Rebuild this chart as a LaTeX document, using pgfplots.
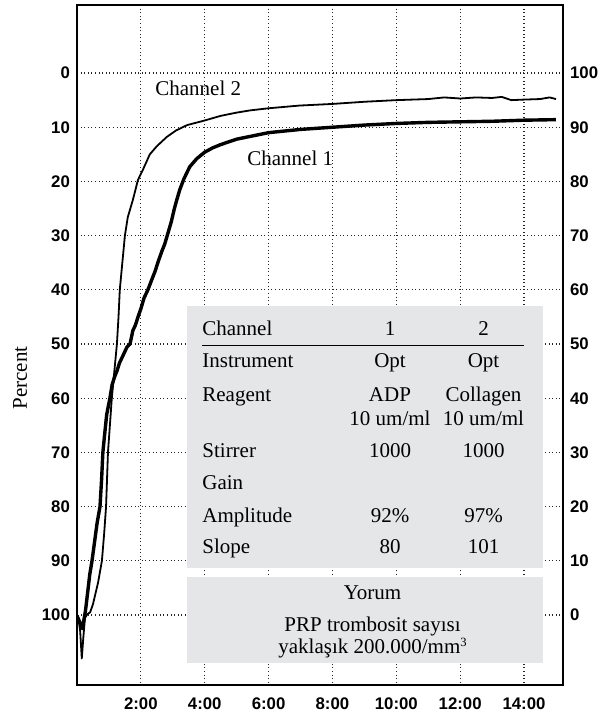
\documentclass[border=0pt]{standalone}
\usepackage{fontspec}
\setmainfont{Liberation Serif}
\setsansfont{Liberation Sans}
\usepackage{pgfplots}
\pgfplotsset{compat=1.18}
\definecolor{boxgray}{HTML}{E5E6E8}

\begin{document}
\begin{tikzpicture}[x=1pt,y=1pt]
\pgfplotsset{
  trace/.style={scale only axis, width=243pt, height=340pt,
    at={(0,0)}, anchor=south west, xmin=0, xmax=15.22,
    major tick length=0pt,
    tick label style={font=\sffamily\bfseries\fontsize{8.4}{10}\selectfont},
    /pgf/number format/assume math mode=true},
}
\begin{axis}[trace,
  ymin=-12.55, ymax=112.9, y dir=reverse,
  xtick={2,4,...,14}, xticklabels={2:00,4:00,6:00,8:00,10:00,12:00,14:00},
  ytick={0,10,...,100},
  grid=major,
  grid style={black!85, line width=0.6pt, dash pattern=on 0.5pt off 1.3pt},
  axis line style={line width=0.9pt},
  xticklabel style={yshift=-3pt},
]
% Channel 1 (ADP)
\addplot[black, line width=1.7pt, line join=round] coordinates {
(0.03,100.5) (0.10,101.5) (0.16,102.5) (0.22,100.8) (0.27,99) (0.33,96)
(0.40,92.5) (0.47,90) (0.55,86.5) (0.63,83) (0.72,80) (0.77,75) (0.81,70)
(0.86,67) (0.93,63) (1.03,60) (1.10,57.5) (1.18,56) (1.25,55) (1.33,53.5)
(1.45,52) (1.57,50.5) (1.66,50) (1.75,47.5) (1.83,46.5) (1.91,45) (2.00,43.5)
(2.10,41.5) (2.22,40) (2.35,38) (2.45,36.5) (2.53,35) (2.65,33) (2.75,31.5)
(2.85,29.5) (2.95,27.5) (3.05,25) (3.12,23.5) (3.22,21.5) (3.35,19.5)
(3.53,17.3) (3.75,15.8) (4.00,14.6) (4.25,13.8) (4.50,13.2) (5.00,12.2)
(5.50,11.6) (6.00,11.0) (6.50,10.7) (7.00,10.4) (7.50,10.2) (8.00,10.0)
(9.00,9.6) (10.00,9.3) (11.00,9.1) (12.00,9.0) (13.00,8.9) (14.00,8.7)
(15.00,8.6)
};
% Channel 2 (Collagen)
\addplot[black, line width=0.9pt, line join=round] coordinates {
(0.03,100) (0.10,103) (0.15,108) (0.20,104) (0.25,100.5) (0.33,99.8)
(0.41,99.5) (0.50,98) (0.58,96) (0.66,94) (0.72,92) (0.78,90) (0.85,85)
(0.91,80) (0.94,75) (0.97,70) (1.03,65) (1.09,60) (1.17,55) (1.25,50)
(1.30,45) (1.34,40) (1.42,35) (1.50,30) (1.59,26.6) (1.75,23.4) (1.91,19.7)
(2.06,17.9) (2.28,15) (2.50,13.5) (2.81,11.8) (3.10,10.6) (3.45,9.6)
(3.97,8.8) (4.50,7.9) (5.00,7.3) (5.41,6.9) (6.00,6.5) (6.97,6.0)
(8.00,5.7) (9.00,5.3) (10.00,5.0) (11.00,4.8) (11.50,4.5) (12.00,4.7)
(12.50,4.5) (13.00,4.6) (13.30,4.4) (13.60,5.0) (14.00,4.9) (14.50,4.8)
(14.80,4.5) (15.00,4.8)
};
\end{axis}
\begin{axis}[trace,
  ymin=-12.9, ymax=112.55,
  axis y line*=right, axis x line=none,
  ytick={0,10,...,100},
  axis line style={line width=0.9pt},
]
\end{axis}

\node[rotate=90, font=\fontsize{10.5}{12}\selectfont] at (-28.5,153.5) {Percent};
\node[anchor=base west, inner sep=0pt, font=\fontsize{10.5}{12}\selectfont] at (39,294.5) {Channel 2};
\node[anchor=base west, inner sep=0pt, font=\fontsize{10.5}{12}\selectfont] at (85,259.5) {Channel 1};

\fill[boxgray] (55,58.5) rectangle (233,189.5);
\fill[boxgray] (55,11) rectangle (233,54);
\draw[line width=0.5pt] (62.5,169.5) -- (223.5,169.5);

\begin{scope}[every node/.style={inner sep=0pt, font=\fontsize{10.5}{12}\selectfont}]
\node[anchor=base west] at (62.5,174.5) {Channel};
\node[anchor=base] at (156.5,174.5) {1};
\node[anchor=base] at (203.25,174.5) {2};
\node[anchor=base west] at (62.5,158.5) {Instrument};
\node[anchor=base] at (156.5,158.5) {Opt};
\node[anchor=base] at (203.25,158.5) {Opt};
\node[anchor=base west] at (62.5,141.5) {Reagent};
\node[anchor=base] at (156.5,141.5) {ADP};
\node[anchor=base] at (203.25,141.5) {Collagen};
\node[anchor=base] at (156.5,129.5) {10 um/ml};
\node[anchor=base] at (203.25,129.5) {10 um/ml};
\node[anchor=base west] at (62.5,113.5) {Stirrer};
\node[anchor=base] at (156.5,113.5) {1000};
\node[anchor=base] at (203.25,113.5) {1000};
\node[anchor=base west] at (62.5,97.5) {Gain};
\node[anchor=base west] at (62.5,81) {Amplitude};
\node[anchor=base] at (156.5,81) {92\%};
\node[anchor=base] at (203.25,81) {97\%};
\node[anchor=base west] at (62.5,65.5) {Slope};
\node[anchor=base] at (156.5,65.5) {80};
\node[anchor=base] at (203.25,65.5) {101};
\node[anchor=base] at (147.75,42.5) {Yorum};
\node[anchor=base] at (147.75,26.5) {PRP trombosit sayısı};
\node[anchor=base] at (147.75,16) {yaklaşık 200.000/mm\raisebox{3.2pt}{\fontsize{6.3}{7}\selectfont 3}};
\end{scope}

\pgfresetboundingbox
\useasboundingbox (-38.5,-14) rectangle (267,342.5);
\end{tikzpicture}
\end{document}
